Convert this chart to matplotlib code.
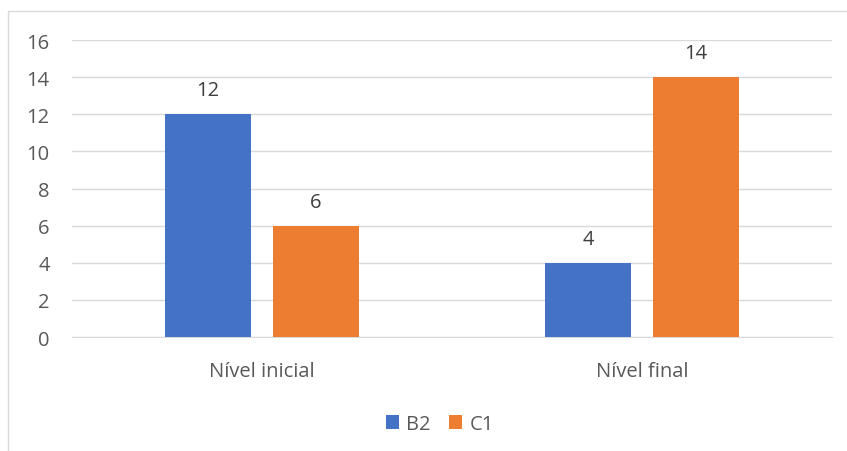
import matplotlib
matplotlib.use("Agg")
import matplotlib.pyplot as plt
from matplotlib.patches import Rectangle
import numpy as np

categories = ["Nível inicial", "Nível final"]
series_names = ["B2", "C1"]
b2_values = [12, 4]
c1_values = [6, 14]
yticks = [0, 2, 4, 6, 8, 10, 12, 14, 16]

plt.rcParams['font.family'] = ['Open Sans', 'DejaVu Sans']

W, H = 847, 452
fig = plt.figure(figsize=(W/100, H/100), dpi=100)
# chart border
fig.add_artist(Rectangle((8/W, -0.1), 1.2, 1 - 12/H + 0.1, transform=fig.transFigure,
                         fill=False, edgecolor='#d9d9d9', linewidth=1.0))

ax = fig.add_axes([72/W, 1 - 338/H, (832-72)/W, (338-41)/H])
x = np.arange(len(categories))
bw = 0.224
off = 0.142
colors = ['#4472C4', '#ED7D31']
FS = 14.5
for vals, o, c, name in [(b2_values, -off, colors[0], series_names[0]),
                         (c1_values, off, colors[1], series_names[1])]:
    bars = ax.bar(x + o, vals, bw, color=c, label=name, zorder=3)
    for b, v in zip(bars, vals):
        ax.text(b.get_x() + b.get_width()/2, v + 0.75, str(v), ha='center', va='bottom',
                fontsize=FS, color='#404040')

ax.set_xlim(-0.5, 1.5)
ax.set_ylim(0, 16)
ax.set_yticks(yticks)
ax.set_xticks(x)
ax.set_xticklabels(categories)
ax.grid(axis='y', color='#d9d9d9', linewidth=1, zorder=0)
for s in ['top', 'right', 'left']:
    ax.spines[s].set_visible(False)
ax.spines['bottom'].set_color('#d9d9d9')
ax.tick_params(axis='both', length=0, labelsize=FS, colors='#595959')
ax.tick_params(axis='x', pad=17)
ax.tick_params(axis='y', pad=16)

leg = fig.legend(loc='center', bbox_to_anchor=(440/W, 1 - 425/H), ncol=2, frameon=False,
                 fontsize=FS, handlelength=0.65, handleheight=0.65, handletextpad=0.35,
                 columnspacing=0.9, labelcolor='#595959')

fig.savefig("out.png", dpi=100)
